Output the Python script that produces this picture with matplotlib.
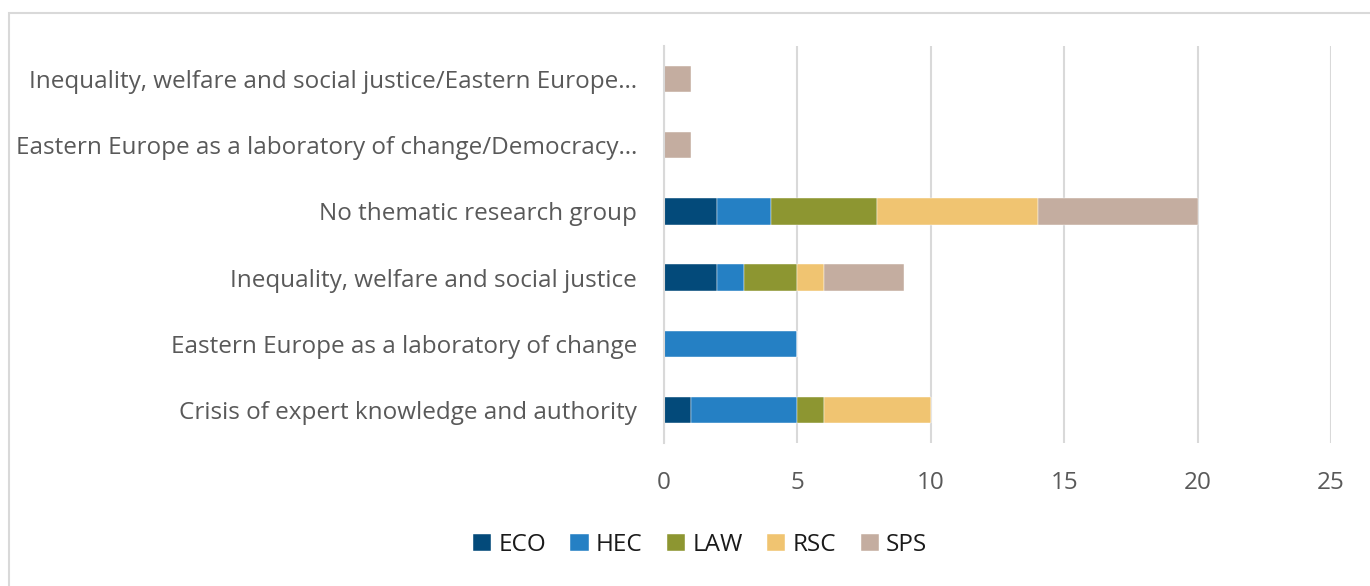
import matplotlib.pyplot as plt
from matplotlib.patches import Rectangle
import numpy as np

categories = ['Crisis of expert knowledge and authority',
              'Eastern Europe as a laboratory of change',
              'Inequality, welfare and social justice',
              'No thematic research group',
              'Eastern Europe as a laboratory of change/Democracy…',
              'Inequality, welfare and social justice/Eastern Europe…']
series = ['ECO', 'HEC', 'LAW', 'RSC', 'SPS']
eco = [1, 0, 2, 2, 0, 0]
hec = [4, 5, 1, 2, 0, 0]
law = [1, 0, 2, 4, 0, 0]
rsc = [4, 0, 1, 6, 0, 0]
sps = [0, 0, 3, 6, 1, 1]
colors = ['#034a7a', '#2580c4', '#8d9631', '#f0c471', '#c4ada0']

plt.rcParams['font.family'] = ['Open Sans', 'DejaVu Sans']
txt = '#595959'

fig = plt.figure(figsize=(13.7, 5.86), dpi=100)
ax = fig.add_axes([664/1370, 1 - 443/586, (1331 - 664)/1370, (443 - 46)/586])

# outer chart frame
fig.patches.append(Rectangle((9/1370, -0.05), 1.1, 1 - 13/586 + 0.05, transform=fig.transFigure,
                             fill=False, edgecolor='#d9d9d9', linewidth=1.5))

y = np.arange(len(categories))
left = np.zeros(len(categories))
for name, vals, c in zip(series, [eco, hec, law, rsc, sps], colors):
    ax.barh(y, vals, left=left, height=0.4, color=c, label=name, edgecolor='white', linewidth=0.3)
    left += np.array(vals)

ax.set_xlim(0, 25)
ax.set_ylim(-0.5, len(categories) - 0.5)
ax.set_xticks(range(0, 26, 5))
ax.set_yticks(y)
ax.set_yticklabels(categories)
ax.grid(axis='x', color='#d9d9d9', linewidth=1.5)
ax.set_axisbelow(True)
for s in ['top', 'right', 'bottom']:
    ax.spines[s].set_visible(False)
ax.spines['left'].set_color('#d9d9d9')
ax.spines['left'].set_linewidth(1.5)
ax.tick_params(axis='both', length=0, labelsize=17.5, colors=txt)
ax.tick_params(axis='y', pad=19.5)
ax.tick_params(axis='x', pad=20)

fig.legend(loc='center', bbox_to_anchor=(0.511, 1 - 545/586), ncol=5, frameon=False,
           fontsize=17.5, labelcolor='#1a1a1a', handlelength=0.75, handleheight=0.75,
           handletextpad=0.3, columnspacing=1.0)

fig.savefig('out.png', dpi=100)
